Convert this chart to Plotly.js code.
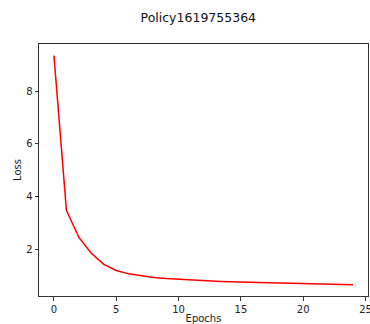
<!DOCTYPE html>
<html>
<head>
<meta charset="utf-8">
<script src="https://cdn.plot.ly/plotly-3.0.1.min.js"></script>
<style>html,body{margin:0;padding:0;background:#fff;}#chart{width:370px;height:324px;}</style>
</head>
<body>
<div id="chart"></div>
<script>
const epochs = [0,1,2,3,4,5,6,7,8,9,10,11,12,13,14,15,16,17,18,19,20,21,22,23,24];
const loss = [9.35,3.48,2.45,1.85,1.43,1.20,1.07,0.99,0.93,0.89,0.86,0.83,0.81,0.79,0.77,0.76,0.74,0.73,0.72,0.71,0.70,0.69,0.68,0.67,0.66];
const xTicks = [0,5,10,15,20,25];
const yTicks = [2,4,6,8];
const titleText = "Policy1619755364";

const font = {family: "DejaVu Sans", size: 10, color: "#222"};
const axisCommon = {
  showgrid: false, zeroline: false, showline: true, mirror: true,
  linecolor: "#333", linewidth: 1, ticks: "outside", ticklen: 3.5,
  tickcolor: "#333", tickwidth: 1, tickfont: font, ticklabeloverflow: "allow"
};
Plotly.newPlot("chart", [{
  x: epochs, y: loss, type: "scatter", mode: "lines",
  line: {color: "#ff0000", width: 1.5}, hoverinfo: "skip"
}], {
  width: 370, height: 324,
  margin: {l: 38.5, r: 2, t: 44, b: 28},
  paper_bgcolor: "#fff", plot_bgcolor: "#fff",
  showlegend: false,
  font: font,
  title: {text: titleText, font: {family: "DejaVu Sans", size: 12.5, color: "#111"}, x: 0.536, xanchor: "center", y: 0.947, yanchor: "middle"},
  xaxis: Object.assign({}, axisCommon, {
    range: [-1.2, 25.2], tickvals: xTicks, ticktext: xTicks.map(String),
    title: {text: "Epochs", font: font, standoff: 4}
  }),
  yaxis: Object.assign({}, axisCommon, {
    range: [0.23, 9.79], tickvals: yTicks, ticktext: yTicks.map(String),
    title: {text: "Loss", font: font, standoff: 2}
  })
}, {staticPlot: true});
</script>
</body>
</html>
